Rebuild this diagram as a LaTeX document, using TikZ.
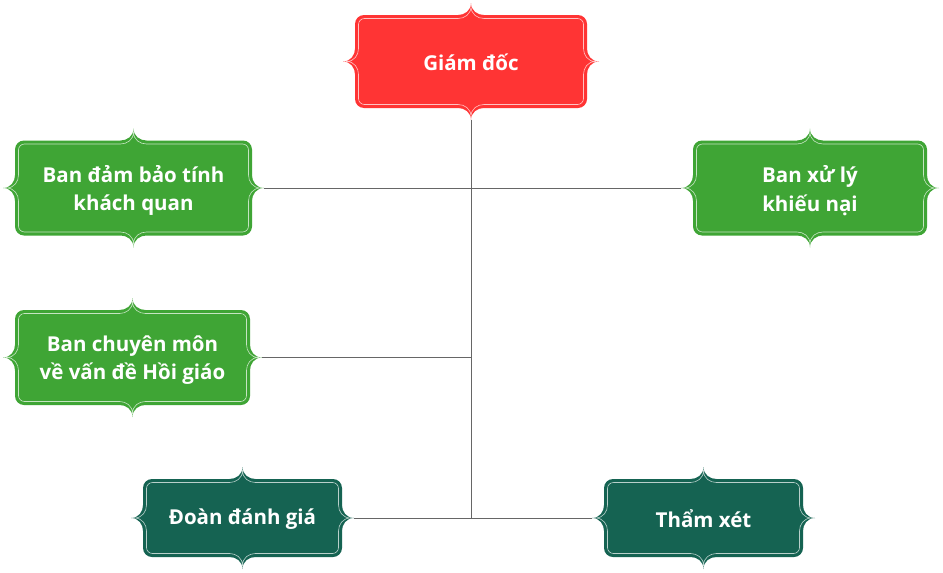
\documentclass[tikz,border=0pt]{standalone}
\usepackage{fontspec}
\setmainfont{Open Sans}
\definecolor{cred}{HTML}{FF3434}
\definecolor{cgreen}{HTML}{3FA535}
\definecolor{cdark}{HTML}{156352}
\definecolor{cline}{HTML}{666666}
\newcommand\ornpath[3]{%
 (-#1+#3,-#2) -- (-13,-#2) .. controls (-6.5,-#2) and (0,-#2-4.2) .. (0,-#2-12) .. controls (0,-#2-4.2) and (6.5,-#2) .. (13,-#2)
 -- (#1-#3,-#2) .. controls (#1-0.448*#3,-#2) and (#1,-#2+0.448*#3) .. (#1,-#2+#3)
 -- (#1,-13) .. controls (#1,-6.5) and (#1+4.2,0) .. (#1+12,0) .. controls (#1+4.2,0) and (#1,6.5) .. (#1,13)
 -- (#1,#2-#3) .. controls (#1,#2-0.448*#3) and (#1-0.448*#3,#2) .. (#1-#3,#2)
 -- (13,#2) .. controls (6.5,#2) and (0,#2+4.2) .. (0,#2+12) .. controls (0,#2+4.2) and (-6.5,#2) .. (-13,#2)
 -- (-#1+#3,#2) .. controls (-#1+0.448*#3,#2) and (-#1,#2-0.448*#3) .. (-#1,#2-#3)
 -- (-#1,13) .. controls (-#1,6.5) and (-#1-4.2,0) .. (-#1-12,0) .. controls (-#1-4.2,0) and (-#1,-6.5) .. (-#1,-13)
 -- (-#1,-#2+#3) .. controls (-#1,-#2+0.448*#3) and (-#1+0.448*#3,-#2) .. (-#1+#3,-#2) -- cycle}
\newcommand\ornbox[8]{%
 \begin{scope}[shift={(#2,#3)}]
  \pgfmathsetmacro\iw{#4-3.5}\pgfmathsetmacro\ih{#5-3.5}
  \fill[#6] \ornpath{#4}{#5}{9};
  \draw[innerline] \ornpath{\iw}{\ih}{6};
 \end{scope}
 \pgfmathsetmacro\nw{2*#4+24}\pgfmathsetmacro\nh{2*#5+24}
 \node[anchorbox, minimum width=\nw pt, minimum height=\nh pt] (#1) at (#2,#3) {};
 \node[boxtext, yshift=-#8pt] (#1t) at (#1.center) {#7};
}
\tikzset{
 innerline/.style={white, line width=0.6pt, opacity=0.7},
 anchorbox/.style={rectangle, inner sep=0pt},
 boxtext/.style={rectangle, inner sep=0pt, align=center, text=white,
   font=\fontsize{20.5pt}{28.5pt}\selectfont\bfseries},
 conn/.style={cline, line width=1pt}
}
\begin{document}
\begin{tikzpicture}[x=1pt,y=-1pt]
\useasboundingbox[fill=white] (0,0) rectangle (943,573);
\ornbox{gd}{471}{61.5}{116}{46.5}{cred}{Giám đốc}{1}
\ornbox{b1}{133.5}{188}{118.5}{47.5}{cgreen}{Ban đảm bảo tính\\khách quan}{2.5}
\ornbox{b2}{810}{188}{117}{47.5}{cgreen}{Ban xử lý\\khiếu nại}{2.5}
\ornbox{b3}{132.5}{357.5}{117.5}{47.5}{cgreen}{Ban chuyên môn\\về vấn đề Hồi giáo}{2.5}
\ornbox{dg}{242.5}{518}{99.5}{39}{cdark}{Đoàn đánh giá}{1}
\ornbox{tx}{703.5}{518}{99.5}{39}{cdark}{Thẩm xét}{1}
\draw[conn] (gd.south) -- (gd.south |- dg.east);
\draw[conn] (b1.east) -- (b2.west);
\draw[conn] (b3.east) -- (b3.east -| gd.south);
\draw[conn] (dg.east) -- (tx.west);
\end{tikzpicture}
\end{document}
